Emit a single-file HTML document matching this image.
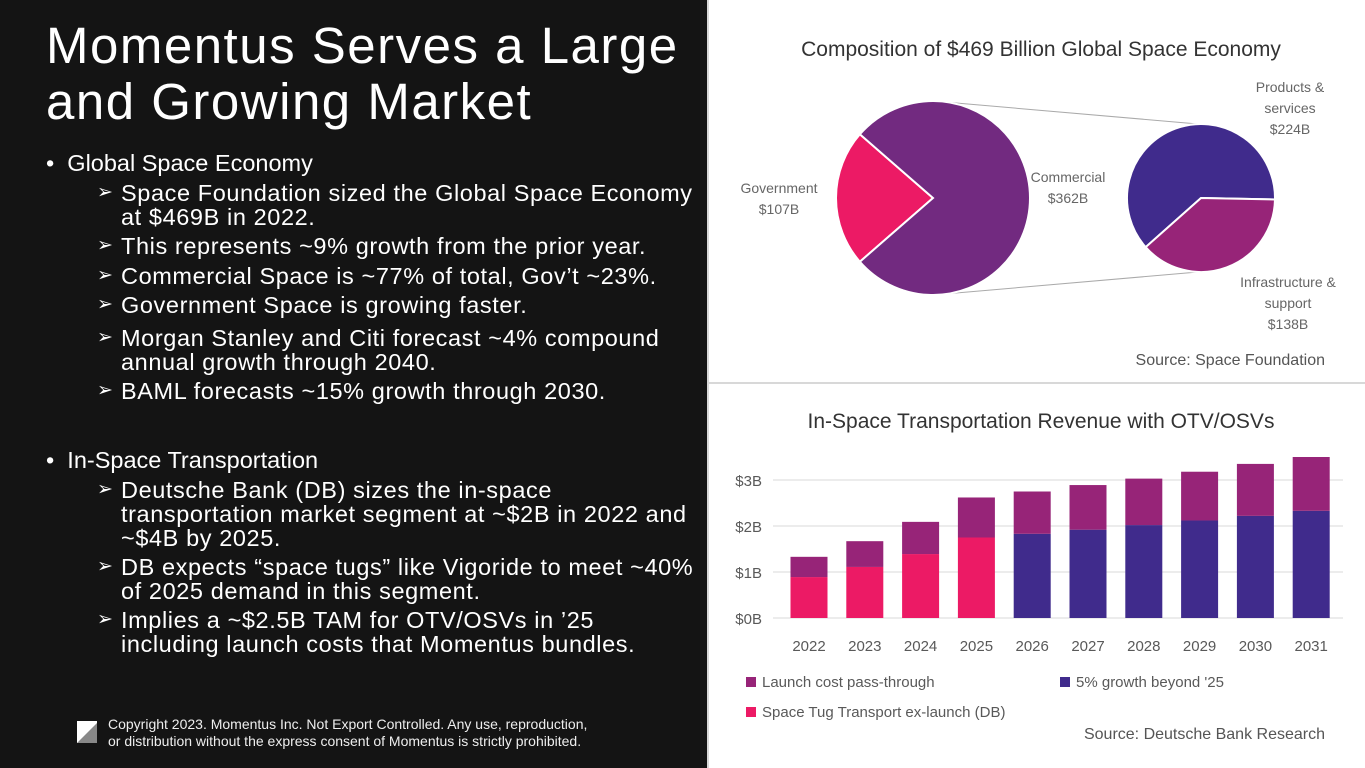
<!DOCTYPE html>
<html><head><meta charset="utf-8">
<style>
body{margin:0;width:1365px;height:768px;overflow:hidden;font-family:"Liberation Sans",sans-serif;background:#fff;position:relative}
#left{position:absolute;left:0;top:0;width:707px;height:768px;background:#141414;color:#fff}
#right{position:absolute;left:707px;top:0;width:658px;height:768px;background:#fff;border-left:2px solid #d8d8d8}
.title{position:absolute;left:46px;top:18px;font-size:51px;line-height:56px;letter-spacing:1.5px;color:#fff;white-space:nowrap}
.b{position:absolute;font-size:23.5px;line-height:24px;color:#fff;letter-spacing:0.6px;white-space:nowrap}
.l1{left:46px}
.l2{left:97px}
.l2 .arr{position:absolute;left:0;font-size:19px}
.l2 span.t{display:block;padding-left:24px}
svg text{font-family:"Liberation Sans",sans-serif}
</style></head>
<body>
<div id="left">
<div class="title">Momentus Serves a Large<br>and Growing Market</div>
<div class="b l1" style="top:151px;letter-spacing:0">•&nbsp;&nbsp;Global Space Economy</div>
<div class="b l2" style="top:181px"><span class="arr">➢</span><span class="t">Space Foundation sized the Global Space Economy<br>at $469B in 2022.</span></div>
<div class="b l2" style="top:234px"><span class="arr">➢</span><span class="t">This represents ~9% growth from the prior year.</span></div>
<div class="b l2" style="top:264px"><span class="arr">➢</span><span class="t">Commercial Space is ~77% of total, Gov’t ~23%.</span></div>
<div class="b l2" style="top:293px"><span class="arr">➢</span><span class="t">Government Space is growing faster.</span></div>
<div class="b l2" style="top:326px"><span class="arr">➢</span><span class="t">Morgan Stanley and Citi forecast ~4% compound<br>annual growth through 2040.</span></div>
<div class="b l2" style="top:379px"><span class="arr">➢</span><span class="t">BAML forecasts ~15% growth through 2030.</span></div>
<div class="b l1" style="top:448px;letter-spacing:0">•&nbsp;&nbsp;In-Space Transportation</div>
<div class="b l2" style="top:478px"><span class="arr">➢</span><span class="t">Deutsche Bank (DB) sizes the in-space<br>transportation market segment at ~$2B in 2022 and<br>~$4B by 2025.</span></div>
<div class="b l2" style="top:555px"><span class="arr">➢</span><span class="t">DB expects “space tugs” like Vigoride to meet ~40%<br>of 2025 demand in this segment.</span></div>
<div class="b l2" style="top:608px"><span class="arr">➢</span><span class="t">Implies a ~$2.5B TAM for OTV/OSVs in ’25<br>including launch costs that Momentus bundles.</span></div>
<svg style="position:absolute;left:77px;top:721px" width="20" height="22"><rect width="20" height="22" fill="#fff"/><path d="M0 22 L20 2 L20 22 Z" fill="#888"/></svg>
<div style="position:absolute;left:108px;top:716px;font-size:14px;line-height:17px;color:#eee">Copyright 2023. Momentus Inc. Not Export Controlled. Any use, reproduction,<br>or distribution without the express consent of Momentus is strictly prohibited.</div>
</div>
<div id="right"></div>
<svg id="charts" style="position:absolute;left:0;top:0" width="1365" height="768">
<line x1="709" y1="383" x2="1365" y2="383" stroke="#d8d8d8" stroke-width="2"/>
<g id="pie"></g>
<g id="bar"></g>
</svg>
<script>
const pieLabels=["Government","Commercial"];
const pieValues=[107,362];
const subLabels=["Products & services","Infrastructure & support"];
const subValues=[224,138];
const years=["2022","2023","2024","2025","2026","2027","2028","2029","2030","2031"];
const tugValues=[0.89,1.11,1.39,1.75,0,0,0,0,0,0];
const growthValues=[0,0,0,0,1.83,1.92,2.02,2.12,2.22,2.33];
const launchValues=[0.44,0.56,0.70,0.87,0.92,0.97,1.01,1.06,1.13,1.17];
const yTicks=[0,1,2,3];
const NS="http://www.w3.org/2000/svg";
function mk(p,tag,a,txt){const e=document.createElementNS(NS,tag);for(const k in a)e.setAttribute(k,a[k]);if(txt!==undefined)e.textContent=txt;p.appendChild(e);return e;}
const pie=document.getElementById('pie');
const t1=mk(pie,'text',{x:1041,y:56,'font-size':21,fill:'#333','text-anchor':'middle'},'Composition of $469 Billion Global Space Economy');


function arc(cx,cy,r,a0,a1){const x0=cx+r*Math.cos(a0),y0=cy+r*Math.sin(a0),x1=cx+r*Math.cos(a1),y1=cy+r*Math.sin(a1);const lg=(a1-a0)>Math.PI?1:0;return `M${cx} ${cy} L${x0} ${y0} A${r} ${r} 0 ${lg} 1 ${x1} ${y1} Z`;}
mk(pie,'line',{x1:933,y1:101,x2:1198,y2:124,stroke:'#aaa','stroke-width':1});
mk(pie,'line',{x1:933,y1:295,x2:1198,y2:272,stroke:'#aaa','stroke-width':1});
const tot=pieValues[0]+pieValues[1];
const gSpan=pieValues[0]/tot*2*Math.PI;
const gStart=Math.PI-gSpan/2;
const pieCols=['#ec1a65','#722a80'];
let a=gStart;
pieValues.forEach((v,i)=>{const s=v/tot*2*Math.PI;const p=mk(pie,'path',{d:arc(933,198,97,a,a+s),fill:pieCols[i],stroke:'#fff','stroke-width':2});


a+=s;});
const subTot=subValues[0]+subValues[1];
const iSpan=subValues[1]/subTot*2*Math.PI;
const st=0.02;
const subCols=['#402b8c','#972478'];
const ps=mk(pie,'path',{d:arc(1201,198,74,st+iSpan,st+2*Math.PI),fill:subCols[0],stroke:'#fff','stroke-width':2});


const pi=mk(pie,'path',{d:arc(1201,198,74,st,st+iSpan),fill:subCols[1],stroke:'#fff','stroke-width':2});


function lbl(x,y,lines,name){const g=mk(pie,'g',{});lines.forEach((l,i)=>mk(g,'text',{x:x,y:y+i*21,'font-size':14,fill:'#666','text-anchor':'middle'},l));}
lbl(779,193,[pieLabels[0],'$'+pieValues[0]+'B'],'government-label');
lbl(1068,182,[pieLabels[1],'$'+pieValues[1]+'B'],'commercial-label');
lbl(1290,92,['Products &','services','$'+subValues[0]+'B'],'products-label');
lbl(1288,287,['Infrastructure &','support','$'+subValues[1]+'B'],'infrastructure-label');
const src1=mk(pie,'text',{x:1325,y:365,'font-size':16,fill:'#555','text-anchor':'end'},'Source: Space Foundation');



const bar=document.getElementById('bar');
const t2=mk(bar,'text',{x:1041,y:428,'font-size':21,fill:'#333','text-anchor':'middle'},'In-Space Transportation Revenue with OTV/OSVs');


const y0=618,pxB=46,xL=773,xR=1343;
const yS=v=>y0-v*pxB;
const step=55.8,x0c=809;
const xS=i=>x0c+i*step;
yTicks.forEach(t=>{mk(bar,'line',{x1:xL,x2:xR,y1:yS(t),y2:yS(t),stroke:'#d9d9d9','stroke-width':1});
const tl=mk(bar,'text',{x:762,y:yS(t)+6,'font-size':15,fill:'#595959','text-anchor':'end'},'$'+t+'B');

});
years.forEach((yr,i)=>{const w=37;let base=0;
[[tugValues,'#ec1a65','tug'],[growthValues,'#402b8c','growth'],[launchValues,'#972478','launch']].forEach(([arr,c,n])=>{const v=arr[i];if(v>0){const r=mk(bar,'rect',{x:xS(i)-w/2,y:yS(base+v),width:w,height:v*pxB,fill:c});


base+=v;}});
const xl=mk(bar,'text',{x:xS(i),y:651,'font-size':15,fill:'#595959','text-anchor':'middle'},yr);

});
function leg(x,y,c,t,n){const g=mk(bar,'g',{});mk(g,'rect',{x:x,y:y-9,width:10,height:10,fill:c});mk(g,'text',{x:x+16,y:y+1,'font-size':15,fill:'#595959'},t);}
leg(746,686,'#972478','Launch cost pass-through','legend-launch-cost');
leg(1060,686,'#402b8c',"5% growth beyond '25",'legend-growth');
leg(746,716,'#ec1a65','Space Tug Transport ex-launch (DB)','legend-space-tug');
const src2=mk(bar,'text',{x:1325,y:739,'font-size':16,fill:'#555','text-anchor':'end'},'Source: Deutsche Bank Research');


</script>
</body></html>
